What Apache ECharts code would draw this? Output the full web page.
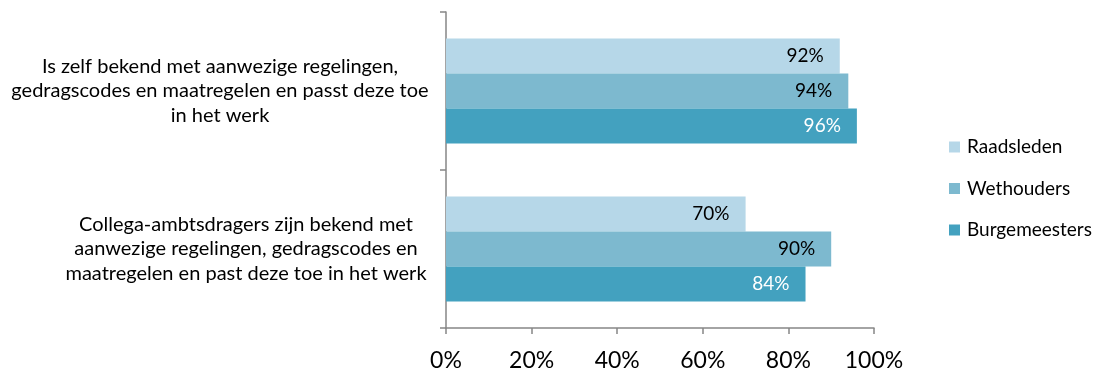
<!DOCTYPE html>
<html>
<head>
<meta charset="utf-8">
<script src="https://cdn.jsdelivr.net/npm/echarts@6/dist/echarts.min.js"></script>
<style>
  html, body { margin: 0; padding: 0; background: #fff; }
  #chart { width: 1095px; height: 372px; }
</style>
</head>
<body>
<div id="chart"></div>
<script>
// categories, top to bottom
var categories = [
  'Is zelf bekend met aanwezige regelingen,\ngedragscodes en maatregelen en passt deze toe\nin het werk',
  'Collega-ambtsdragers zijn bekend met\naanwezige regelingen, gedragscodes en\nmaatregelen en past deze toe in het werk'
];
var seriesNames = ['Raadsleden', 'Wethouders', 'Burgemeesters'];
var raadsleden = [92, 70];
var wethouders = [94, 90];
var burgemeesters = [96, 84];
var xTicks = [0, 20, 40, 60, 80, 100];

var colors = ['#b6d7e8', '#7db9cf', '#43a1bf'];
var labelColors = ['#000', '#000', '#fff'];
var font = 'Lato, "Open Sans", sans-serif';

var chart = echarts.init(document.getElementById('chart'));

function makeSeries(name, data, i) {
  return {
    name: name,
    type: 'bar',
    data: data,
    barWidth: 35,
    barGap: '0%',
    itemStyle: { color: colors[i] },
    label: {
      show: true,
      position: 'insideRight',
      distance: 16,
      formatter: '{c}%',
      color: labelColors[i],
      fontFamily: font,
      fontSize: 19
    }
  };
}

chart.setOption({
  animation: false,
  color: colors,
  grid: { left: 446, right: 221, top: 12, bottom: 41 },
  legend: {
    orient: 'vertical',
    left: 944,
    top: 131,
    itemWidth: 11,
    itemHeight: 11,
    itemGap: 19.5,
    icon: 'rect',
    textStyle: { fontFamily: font, fontSize: 19, lineHeight: 22, color: '#000', padding: [0, 0, 0, 2] },
    data: seriesNames
  },
  xAxis: {
    type: 'value',
    min: xTicks[0],
    max: xTicks[xTicks.length - 1],
    interval: 20,
    axisLine: { show: true, lineStyle: { color: '#868686', width: 1.5 } },
    axisTick: { show: true, length: 6, lineStyle: { color: '#868686', width: 1.5 } },
    splitLine: { show: false },
    axisLabel: {
      formatter: '{value}%',
      fontFamily: font,
      fontSize: 23,
      color: '#000',
      margin: 21
    }
  },
  yAxis: {
    type: 'category',
    inverse: true,
    data: categories,
    axisLine: { show: true, lineStyle: { color: '#868686', width: 1.5 } },
    axisTick: { show: true, length: 6, lineStyle: { color: '#868686', width: 1.5 } },
    axisLabel: {
      margin: 200,
      align: 'center',
      formatter: function (v, idx) {
        var tag = idx === 0 ? 'a' : 'b';
        return v.split('\n').map(function (s) { return '{' + tag + '|' + s + '}'; }).join('\n');
      },
      rich: {
        a: { fontFamily: font, fontSize: 20, color: '#000', lineHeight: 24.5, padding: [0, 52, 0, 0] },
        b: { fontFamily: font, fontSize: 20, color: '#000', lineHeight: 24.5 }
      }
    }
  },
  series: [
    makeSeries(seriesNames[0], raadsleden, 0),
    makeSeries(seriesNames[1], wethouders, 1),
    makeSeries(seriesNames[2], burgemeesters, 2)
  ]
});
</script>
</body>
</html>
